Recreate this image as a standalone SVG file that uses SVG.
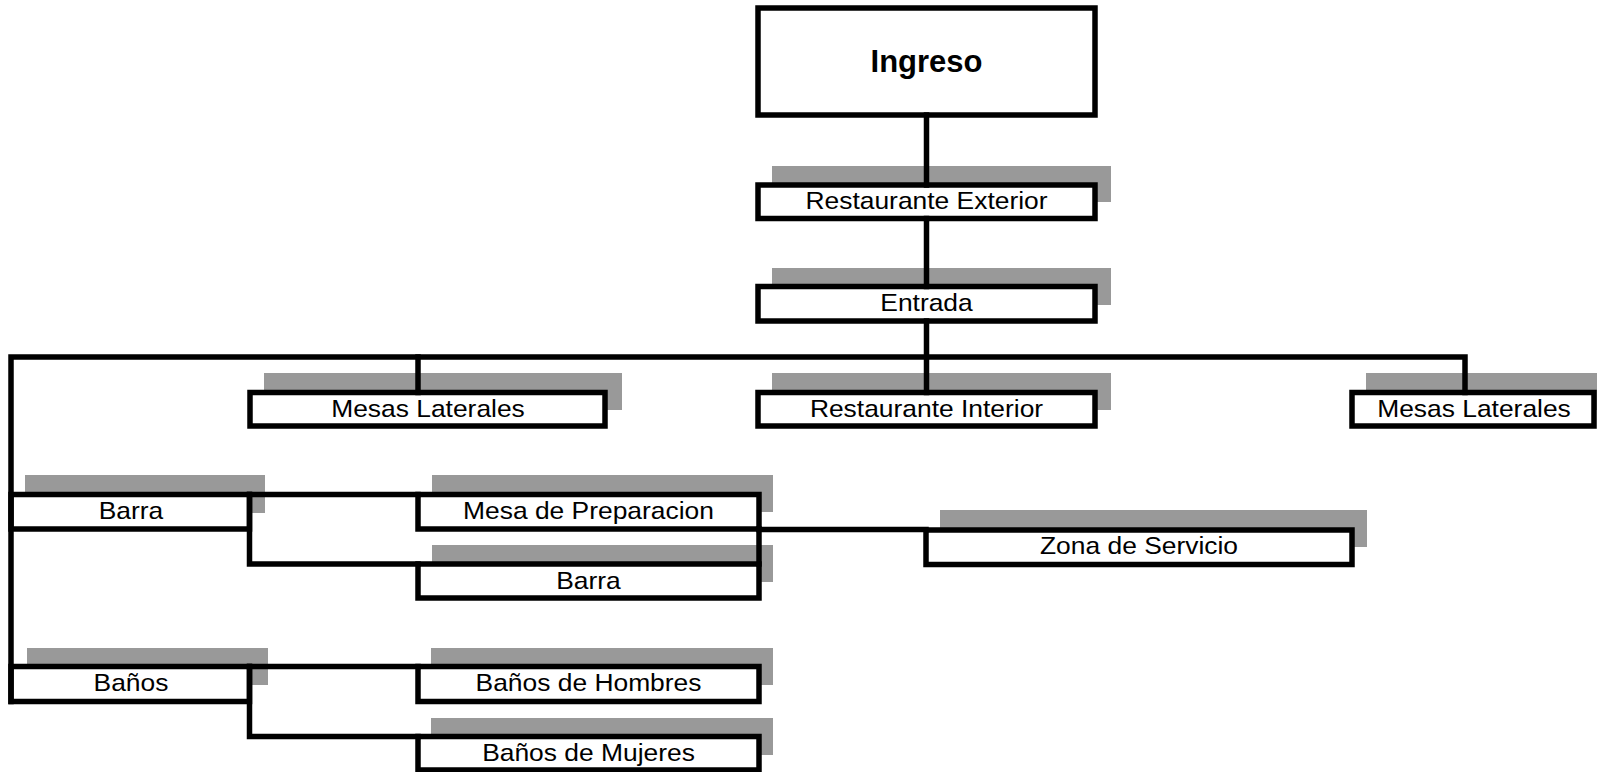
<svg xmlns="http://www.w3.org/2000/svg" width="1597" height="772" viewBox="0 0 1597 772">
<style>
.sh{fill:#999999;stroke:none}
.bx{fill:#ffffff;stroke:#000000;stroke-width:5.5}
.ln{fill:none;stroke:#000000;stroke-width:5.5;stroke-linejoin:miter;stroke-linecap:square}
.t{font-family:"Liberation Sans",Arial,sans-serif;font-size:24px;text-anchor:middle;fill:#000000}
.tb{font-family:"Liberation Sans",Arial,sans-serif;font-size:31px;font-weight:bold;text-anchor:middle;fill:#000000}
</style>
<rect width="1597" height="772" fill="#ffffff"/>
<g id="nodes">
<g id="ingreso">
<rect class="bx" x="758" y="8" width="337" height="107"/>
<text class="tb" x="926.5" y="72">Ingreso</text>
</g>
<g id="restaurante-exterior">
<rect class="sh" x="772" y="166" width="339" height="36"/>
<rect class="bx" x="758" y="185" width="337" height="33.5"/>
<text class="t" transform="translate(926.5 209) scale(1.1 1)">Restaurante Exterior</text>
</g>
<g id="entrada">
<rect class="sh" x="772" y="268" width="339" height="37"/>
<rect class="bx" x="758" y="286.5" width="337" height="34.5"/>
<text class="t" transform="translate(926.5 311) scale(1.1 1)">Entrada</text>
</g>
<g id="restaurante-interior">
<rect class="sh" x="772" y="373" width="339" height="37"/>
<rect class="bx" x="758" y="392.5" width="337" height="33.5"/>
<text class="t" transform="translate(926.5 416.5) scale(1.1 1)">Restaurante Interior</text>
</g>
<g id="mesas-laterales-izq">
<rect class="sh" x="264" y="373" width="358" height="37"/>
<rect class="bx" x="250" y="392.5" width="355" height="33.5"/>
<text class="t" transform="translate(428 416.5) scale(1.1 1)">Mesas Laterales</text>
</g>
<g id="mesas-laterales-der">
<rect class="sh" x="1366" y="373" width="245" height="37"/>
<rect class="bx" x="1352" y="392.5" width="242" height="33.5"/>
<text class="t" transform="translate(1474 416.5) scale(1.1 1)">Mesas Laterales</text>
</g>
<g id="barra">
<rect class="sh" x="25" y="475" width="240" height="38"/>
<rect class="bx" x="11" y="494.5" width="238.5" height="34.5"/>
<text class="t" transform="translate(131 519) scale(1.1 1)">Barra</text>
</g>
<g id="mesa-de-preparacion">
<rect class="sh" x="432" y="475" width="341" height="37"/>
<rect class="bx" x="418" y="494.5" width="341" height="34.5"/>
<text class="t" transform="translate(588.5 519) scale(1.1 1)">Mesa de Preparacion</text>
</g>
<g id="barra-2">
<rect class="sh" x="432" y="545" width="341" height="37"/>
<rect class="bx" x="418" y="564" width="341" height="34"/>
<text class="t" transform="translate(588.5 588.5) scale(1.1 1)">Barra</text>
</g>
<g id="zona-de-servicio">
<rect class="sh" x="940" y="510" width="427" height="37"/>
<rect class="bx" x="926" y="530" width="426" height="34.5"/>
<text class="t" transform="translate(1139 554) scale(1.1 1)">Zona de Servicio</text>
</g>
<g id="banos">
<rect class="sh" x="27" y="648" width="241" height="37"/>
<rect class="bx" x="11" y="666.5" width="238.5" height="35"/>
<text class="t" transform="translate(131 691) scale(1.1 1)">Baños</text>
</g>
<g id="banos-hombres">
<rect class="sh" x="431" y="648" width="342" height="37"/>
<rect class="bx" x="418" y="666.5" width="341" height="35"/>
<text class="t" transform="translate(588.5 691) scale(1.1 1)">Baños de Hombres</text>
</g>
<g id="banos-mujeres">
<rect class="sh" x="431" y="718" width="342" height="37"/>
<rect class="bx" x="418" y="736.5" width="341" height="33.5"/>
<text class="t" transform="translate(588.5 760.5) scale(1.1 1)">Baños de Mujeres</text>
</g>
</g>
<g id="connectors">
<line class="ln" x1="926.5" y1="115" x2="926.5" y2="185"/>
<line class="ln" x1="926.5" y1="218.5" x2="926.5" y2="286.5"/>
<line class="ln" x1="926.5" y1="321" x2="926.5" y2="392.5"/>
<polyline class="ln" points="11,701.5 11,357 1465,357 1465,392.5"/>
<line class="ln" x1="418" y1="357" x2="418" y2="392.5"/>
<polyline class="ln" points="249.5,494.5 418,494.5"/>
<polyline class="ln" points="249.5,494.5 249.5,564 418,564"/>
<line class="ln" x1="759" y1="529" x2="759" y2="564"/>
<line class="ln" x1="759" y1="529.5" x2="926" y2="529.5"/>
<polyline class="ln" points="249.5,666.5 418,666.5"/>
<polyline class="ln" points="249.5,666.5 249.5,736.5 418,736.5"/>
</g>
</svg>
